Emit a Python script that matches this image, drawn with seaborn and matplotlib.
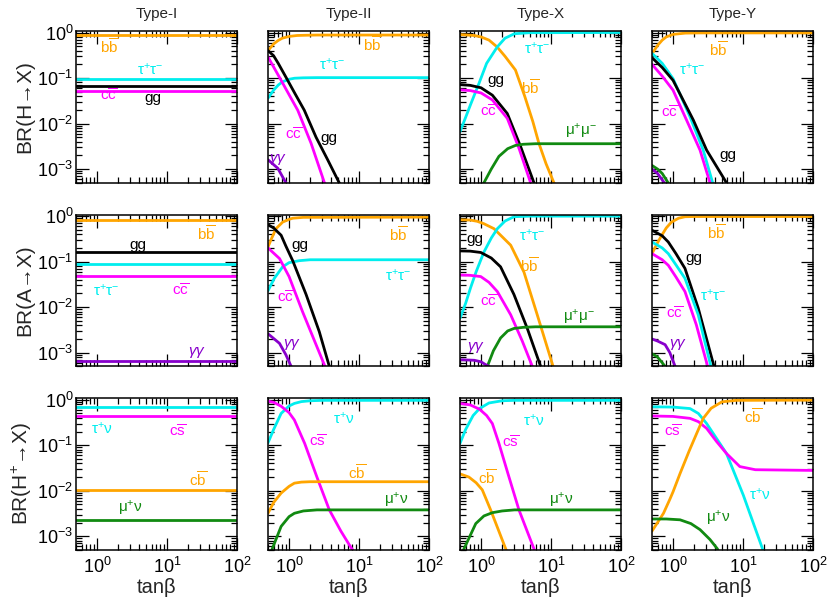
import matplotlib
matplotlib.use("Agg")
import matplotlib.pyplot as plt
import seaborn as sns

# ---------------- data ----------------
types = ["Type-I", "Type-II", "Type-X", "Type-Y"]
row_labels = ["BR(H→X)", "BR(A→X)", r"BR(H$^{+}$→X)"]
tb_flat = [0.5, 100]

# H -> X
H_I = {
    "bb": (tb_flat, [0.88, 0.88]),
    "tautau": (tb_flat, [0.096, 0.096]),
    "gg": (tb_flat, [0.067, 0.067]),
    "cc": (tb_flat, [0.053, 0.053]),
}
H_II = {
    "bb": ([0.5, 0.6, 0.7, 0.8, 1.0, 1.3, 1.7, 2.5, 100],
           [0.40, 0.56, 0.67, 0.75, 0.82, 0.86, 0.87, 0.88, 0.88]),
    "tautau": ([0.5, 0.6, 0.7, 0.8, 1.0, 1.2, 1.6, 2.5, 100],
               [0.036, 0.054, 0.070, 0.082, 0.094, 0.099, 0.101, 0.102, 0.102]),
    "gg": ([0.5, 0.6, 0.7, 0.9, 1.2, 1.65, 2.43, 3.56, 5.2, 6.0],
           [0.40, 0.31, 0.21, 0.105, 0.047, 0.0196, 0.0050, 0.0016, 0.0005, 0.00035]),
    "cc": ([0.5, 0.6, 0.77, 1.0, 1.33, 2.06, 3.2, 3.6],
           [0.29, 0.176, 0.089, 0.043, 0.0196, 0.0037, 0.0005, 0.0003]),
    "gamgam": ([0.5, 0.69, 0.9, 1.0], [0.0016, 0.00104, 0.0005, 0.0003]),
}
H_X = {
    "bb": ([0.5, 0.8, 1.0, 1.3, 1.7, 2.2, 3.1, 4.2, 5.5, 6.7, 8.5, 11, 13],
           [0.90, 0.86, 0.80, 0.68, 0.48, 0.30, 0.15, 0.04, 0.011, 0.0037, 0.0013, 0.0005, 0.0003]),
    "tautau": ([0.5, 0.6, 0.7, 0.8, 0.93, 1.2, 1.7, 2.2, 3.0, 5.0, 100],
               [0.0066, 0.0135, 0.025, 0.042, 0.075, 0.21, 0.48, 0.75, 0.94, 0.99, 1.0]),
    "gg": ([0.5, 0.7, 1.0, 1.45, 2.37, 3.68, 5.7, 6.5],
           [0.072, 0.069, 0.061, 0.042, 0.0166, 0.0031, 0.0005, 0.0003]),
    "cc": ([0.5, 0.7, 1.0, 1.45, 2.37, 3.5, 5.1, 5.8],
           [0.055, 0.053, 0.047, 0.033, 0.013, 0.0028, 0.0005, 0.0003]),
    "mumu": ([0.9, 1.1, 1.4, 1.8, 2.4, 3.1, 4.0, 6.0, 100],
             [0.00025, 0.0005, 0.001, 0.0019, 0.0028, 0.0033, 0.0035, 0.0036, 0.0036]),
}
H_Y = {
    "bb": ([0.5, 0.6, 0.7, 0.8, 1.0, 1.5, 2.5, 100],
           [0.34, 0.52, 0.68, 0.80, 0.91, 0.97, 0.98, 0.98]),
    "tautau": ([0.5, 0.7, 1.0, 1.75, 2.7, 3.68, 4.2],
               [0.35, 0.21, 0.097, 0.014, 0.0026, 0.0005, 0.0003]),
    "gg": ([0.5, 0.7, 1.0, 1.95, 3.02, 5.8, 7.0],
           [0.28, 0.17, 0.089, 0.0119, 0.0026, 0.0005, 0.0003]),
    "cc": ([0.5, 0.7, 1.0, 1.56, 2.43, 3.37, 4.0],
           [0.20, 0.11, 0.054, 0.0119, 0.0026, 0.0005, 0.0002]),
    "mumu": ([0.5, 0.6, 0.7, 0.85, 1.0], [0.0012, 0.001, 0.0008, 0.0005, 0.0003]),
    "gamgam": ([0.5, 0.6, 0.75, 0.9], [0.001, 0.0008, 0.0005, 0.0003]),
}

# A -> X
A_I = {
    "bb": (tb_flat, [0.81, 0.81]),
    "gg": (tb_flat, [0.164, 0.164]),
    "tautau": (tb_flat, [0.088, 0.088]),
    "cc": (tb_flat, [0.049, 0.049]),
    "gamgam": (tb_flat, [0.00066, 0.00066]),
}
A_II = {
    "bb": ([0.5, 0.55, 0.65, 0.81, 1.0, 1.13, 1.6, 100],
           [0.21, 0.30, 0.53, 0.74, 0.85, 0.90, 0.94, 0.95]),
    "tautau": ([0.5, 0.615, 0.81, 1.0, 1.4, 2, 100],
               [0.023, 0.043, 0.077, 0.095, 0.105, 0.11, 0.11]),
    "gg": ([0.5, 0.6, 0.77, 0.9, 1.13, 1.75, 2.7, 3.76, 4.3],
           [0.65, 0.55, 0.38, 0.22, 0.104, 0.019, 0.0029, 0.0005, 0.0003]),
    "cc": ([0.5, 0.73, 1.0, 1.56, 2.43, 3.26, 3.8],
           [0.20, 0.117, 0.047, 0.0079, 0.0015, 0.0005, 0.00025]),
    "gamgam": ([0.5, 0.73, 0.9, 1.07, 1.2], [0.0026, 0.0016, 0.0009, 0.0005, 0.0003]),
}
A_X = {
    "bb": ([0.5, 0.7, 0.88, 1.1, 1.53, 2.65, 4.1, 6.35, 10.7, 12.5],
           [0.83, 0.82, 0.77, 0.68, 0.53, 0.23, 0.059, 0.0068, 0.0005, 0.0003]),
    "tautau": ([0.5, 0.6, 0.71, 0.85, 1.1, 1.4, 1.71, 2.2, 2.95, 5, 100],
               [0.0057, 0.012, 0.027, 0.06, 0.163, 0.33, 0.53, 0.78, 0.97, 1.0, 1.0]),
    "gg": ([0.5, 0.7, 0.99, 1.4, 1.9, 2.95, 4.58, 7.1, 8],
           [0.172, 0.17, 0.159, 0.12, 0.077, 0.019, 0.0034, 0.0005, 0.0003]),
    "cc": ([0.5, 0.7, 0.99, 1.3, 1.71, 2.65, 3.88, 5.4, 6],
           [0.051, 0.050, 0.047, 0.035, 0.022, 0.0068, 0.0018, 0.0005, 0.0003]),
    "mumu": ([1.0, 1.23, 1.5, 1.9, 2.4, 2.95, 4, 6, 100],
             [0.00025, 0.0005, 0.0011, 0.0021, 0.003, 0.0034, 0.0036, 0.0037, 0.0037]),
    "gamgam": ([0.5, 0.8, 1.0, 1.15, 1.3, 1.45],
               [0.0007, 0.00068, 0.00063, 0.00055, 0.0005, 0.0003]),
}
A_Y = {
    "bb": ([0.5, 0.6, 0.69, 0.8, 0.95, 1.2, 1.48, 2, 100],
           [0.15, 0.26, 0.38, 0.55, 0.74, 0.9, 0.97, 0.98, 0.98]),
    "gg": ([0.5, 0.7, 0.855, 1.1, 1.48, 2.29, 3.85, 4.4],
           [0.49, 0.37, 0.27, 0.15, 0.071, 0.0095, 0.0005, 0.0003]),
    "tautau": ([0.5, 0.7, 0.855, 1.1, 1.48, 2.29, 3.48, 4.0],
               [0.27, 0.2, 0.15, 0.085, 0.043, 0.0068, 0.0005, 0.0002]),
    "cc": ([0.5, 0.7, 0.855, 1.1, 1.48, 2.15, 3.12, 3.6],
           [0.15, 0.11, 0.083, 0.046, 0.022, 0.0041, 0.0005, 0.00025]),
    "gamgam": ([0.5, 0.6, 0.77, 0.9, 1.07, 1.2], [0.002, 0.0018, 0.0015, 0.001, 0.0005, 0.0003]),
    "mumu": ([0.5, 0.6, 0.7, 0.77, 0.85], [0.00095, 0.0008, 0.0006, 0.0005, 0.0003]),
}

# H+ -> X
Hp_I = {
    "taunu": (tb_flat, [0.70, 0.70]),
    "cs": (tb_flat, [0.44, 0.44]),
    "cb": (tb_flat, [0.0105, 0.0105]),
    "munu": (tb_flat, [0.0023, 0.0023]),
}
Hp_II = {
    "taunu": ([0.5, 0.6, 0.77, 1.0, 1.19, 1.5, 2, 3, 100],
              [0.113, 0.22, 0.50, 0.73, 0.83, 0.91, 0.95, 0.97, 0.97]),
    "cs": ([0.5, 0.6, 0.77, 1.0, 1.19, 1.45, 1.67, 2.5, 3.76, 5.5, 7.7, 9],
           [0.93, 0.88, 0.72, 0.52, 0.36, 0.18, 0.11, 0.02, 0.0038, 0.0013, 0.00056, 0.0004]),
    "cb": ([0.5, 0.6, 0.77, 1.0, 1.19, 1.5, 2, 100],
           [0.0032, 0.0055, 0.0089, 0.0125, 0.0147, 0.0155, 0.0158, 0.0158]),
    "munu": ([0.5, 0.58, 0.77, 1.0, 1.19, 1.6, 2.5, 100],
             [0.0003, 0.00055, 0.00165, 0.0027, 0.0032, 0.0036, 0.0038, 0.0038]),
}
Hp_X = {
    "taunu": ([0.5, 0.6, 0.77, 0.95, 1.3, 2, 3, 100],
              [0.11, 0.22, 0.45, 0.64, 0.85, 0.95, 0.97, 0.97]),
    "cs": ([0.5, 0.7, 0.95, 1.2, 1.45, 1.8, 2.4, 3.48, 5.7, 6.5],
           [0.83, 0.77, 0.62, 0.45, 0.30, 0.11, 0.025, 0.0038, 0.00053, 0.0003]),
    "cb": ([0.5, 0.67, 0.85, 1.04, 1.37, 2.25, 2.6],
           [0.0235, 0.02, 0.015, 0.0105, 0.0038, 0.00053, 0.0003]),
    "munu": ([0.5, 0.57, 0.84, 1.1, 1.45, 2, 3, 100],
             [0.0003, 0.00053, 0.0019, 0.0028, 0.0033, 0.0036, 0.0038, 0.0038]),
}
Hp_Y = {
    "taunu": ([0.5, 1.0, 1.75, 2.3, 3.02, 4.2, 5.8, 10.1, 19, 22],
              [0.70, 0.69, 0.64, 0.5, 0.30, 0.14, 0.066, 0.008, 0.00053, 0.0003]),
    "cs": ([0.5, 1.0, 1.75, 2.3, 3.02, 4.2, 5.8, 9.0, 15, 100],
           [0.44, 0.43, 0.39, 0.33, 0.235, 0.12, 0.066, 0.034, 0.029, 0.028]),
    "cb": ([0.5, 0.6, 0.73, 0.9, 1.0, 1.26, 1.7, 2.17, 2.7, 3.5, 5, 8, 100],
           [0.0013, 0.002, 0.0032, 0.0065, 0.0095, 0.024, 0.075, 0.18, 0.39, 0.65, 0.9, 0.97, 0.98]),
    "munu": ([0.5, 0.8, 1.26, 1.8, 2.43, 3.37, 4.3, 5],
             [0.0024, 0.0024, 0.0023, 0.0019, 0.0014, 0.00085, 0.00053, 0.0003]),
}

panels = [[H_I, H_II, H_X, H_Y], [A_I, A_II, A_X, A_Y], [Hp_I, Hp_II, Hp_X, Hp_Y]]

# ---------------- style ----------------
colors = {"bb": "#FFA500", "cb": "#FFA500", "tautau": "#00EEEE", "taunu": "#00EEEE",
          "cc": "#FF00FF", "cs": "#FF00FF", "gg": "black", "gamgam": "#8800CC",
          "mumu": "#118A11", "munu": "#118A11"}
names = {"bb": r"$\mathregular{b\overline{b}}$", "cc": r"$\mathregular{c\overline{c}}$",
         "cs": r"$\mathregular{c\overline{s}}$", "cb": r"$\mathregular{c\overline{b}}$",
         "gg": "gg", "tautau": r"$\mathrm{\tau^{+}\tau^{-}}$", "taunu": r"$\mathrm{\tau^{+}\nu}$",
         "mumu": r"$\mathrm{\mu^{+}\mu^{-}}$", "munu": r"$\mathrm{\mu^{+}\nu}$",
         "gamgam": r"$\gamma\gamma$"}

# curve label positions (axes fraction)
label_pos = [
    [{"bb": (0.21, 0.895), "tautau": (0.46, 0.743), "cc": (0.20, 0.572), "gg": (0.48, 0.559)},
     {"bb": (0.65, 0.908), "tautau": (0.40, 0.776), "cc": (0.16, 0.316), "gg": (0.38, 0.296),
      "gamgam": (0.06, 0.151)},
     {"tautau": (0.48, 0.886), "gg": (0.22, 0.678), "bb": (0.44, 0.623), "cc": (0.18, 0.469),
      "mumu": (0.75, 0.338)},
     {"bb": (0.41, 0.875), "tautau": (0.25, 0.743), "cc": (0.11, 0.459), "gg": (0.47, 0.184)}],
    [{"bb": (0.81, 0.873), "gg": (0.385, 0.80), "tautau": (0.19, 0.498), "cc": (0.65, 0.498),
      "gamgam": (0.75, 0.09)},
     {"gg": (0.195, 0.799), "bb": (0.81, 0.864), "tautau": (0.81, 0.597), "cc": (0.11, 0.454),
      "gamgam": (0.15, 0.147)},
     {"gg": (0.09, 0.838), "tautau": (0.45, 0.864), "bb": (0.43, 0.662), "cc": (0.18, 0.426),
      "mumu": (0.74, 0.322), "gamgam": (0.10, 0.125)},
     {"bb": (0.40, 0.878), "gg": (0.26, 0.717), "tautau": (0.38, 0.465), "cc": (0.14, 0.345),
      "gamgam": (0.16, 0.147)}],
    [{"taunu": (0.16, 0.803), "cs": (0.63, 0.776), "cb": (0.76, 0.46), "munu": (0.335, 0.276)},
     {"taunu": (0.47, 0.866), "cs": (0.31, 0.712), "cb": (0.55, 0.505), "munu": (0.80, 0.329)},
     {"taunu": (0.46, 0.855), "cs": (0.315, 0.704), "cb": (0.17, 0.474), "munu": (0.63, 0.329)},
     {"cb": (0.63, 0.875), "cs": (0.13, 0.776), "taunu": (0.67, 0.362), "munu": (0.41, 0.21)}],
]

sns.set_style("ticks")
plt.rcParams["font.family"] = ["Liberation Sans", "DejaVu Sans"]
plt.rcParams["mathtext.fontset"] = "custom"
plt.rcParams["mathtext.rm"] = "Liberation Sans"
plt.rcParams["mathtext.it"] = "Liberation Sans:italic"
plt.rcParams["mathtext.bf"] = "Liberation Sans:bold"

fig, axes = plt.subplots(3, 4, figsize=(8.3, 6.1), dpi=100)
fig.subplots_adjust(left=0.0916, right=0.9795, top=0.9492, bottom=0.0984,
                    wspace=0.1925, hspace=0.21)

for r in range(3):
    for c in range(4):
        ax = axes[r, c]
        for key, (tb, br) in panels[r][c].items():
            sns.lineplot(x=tb, y=br, color=colors[key], lw=2.0, ax=ax, sort=False)
        ax.set_xscale("log")
        ax.set_yscale("log")
        ax.set_xlim(0.5, 100)
        ax.set_ylim(5e-4, 1.08)
        for key, (fx, fy) in label_pos[r][c].items():
            ax.text(fx, fy, names[key], color=colors[key], fontsize=11,
                    transform=ax.transAxes, ha="center", va="center")
        ax.tick_params(which="both", direction="in", top=True, right=True,
                       labelsize=13, width=0.9, colors="black")
        ax.tick_params(which="major", length=9, pad=2)
        ax.tick_params(which="minor", length=4.5)
        for s in ax.spines.values():
            s.set_linewidth(1.1)
            s.set_color("black")
        if c == 0:
            ax.set_ylabel(row_labels[r], fontsize=15, labelpad=2)
        else:
            ax.tick_params(labelleft=False)
        if r == 2:
            ax.set_xlabel("tanβ", fontsize=14.5, labelpad=1)
            ax.tick_params(axis="x", pad=5)
        else:
            ax.tick_params(labelbottom=False)
        if r == 0:
            ax.set_title(types[c], fontsize=11, pad=9)

fig.savefig("out.png", dpi=100)
